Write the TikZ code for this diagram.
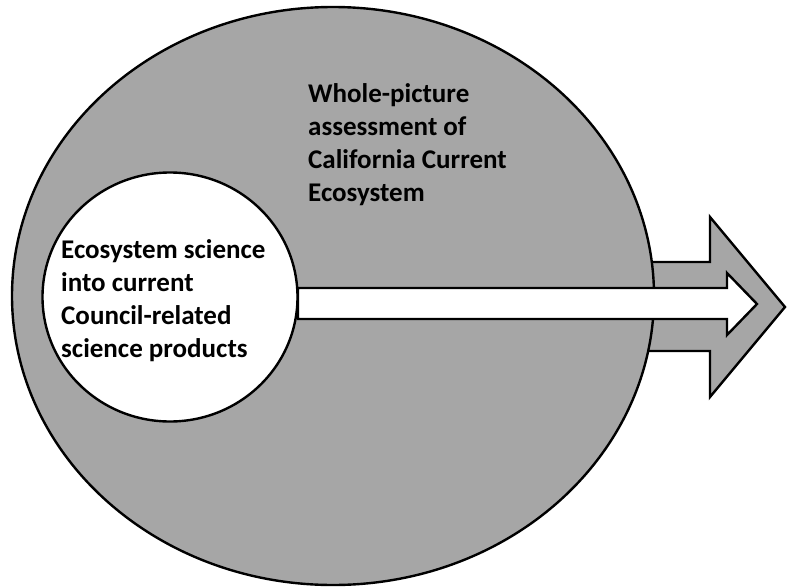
\documentclass[tikz,border=0pt]{standalone}
\usepackage{fontspec}
\setmainfont{Carlito}
\usetikzlibrary{shapes.geometric}
\definecolor{ecogray}{HTML}{A6A6A6}
\def \outerarrow{ (600,262) -- (710,262) -- (710,217) -- (785,307) -- (710,397) -- (710,351) -- (600,351) -- cycle }
\tikzset{
  rim/.style={draw=black, line width=2.4pt},
  label text/.style={anchor=north west, inner sep=0pt, align=left,
    font=\fontsize{27}{33}\selectfont\bfseries}
}

\begin{document}
\begin{tikzpicture}[x=1pt,y=-1pt]
    \useasboundingbox (0,0) rectangle (792,586);

    \fill[ecogray] \outerarrow;
    \draw[rim, line join=miter] \outerarrow;

    \node[ellipse, rim, fill=ecogray, inner sep=0pt,
      minimum width=642pt, minimum height=578pt] (whole) at (333,296) {};

    \node[ellipse, rim, fill=white, inner sep=0pt,
      minimum width=255pt, minimum height=249pt] (current) at (170,297) {};

    \coordinate (tailtop) at (298,288);
    \coordinate (tailbot) at (298,319);
    \draw[rim, fill=white, line join=miter]
      (tailtop) -- (727,288) -- (727,273) -- (757,304)
      -- (727,335) -- (727,319) -- (tailbot) -- cycle;

    \node[label text] (wholetext) at (308,83)
      {Whole-picture\\assessment of\\California Current\\Ecosystem};
    \node[label text] (currenttext) at (61,239)
      {Ecosystem science\\into current\\Council-related\\science products};

  \end{tikzpicture}
\end{document}
